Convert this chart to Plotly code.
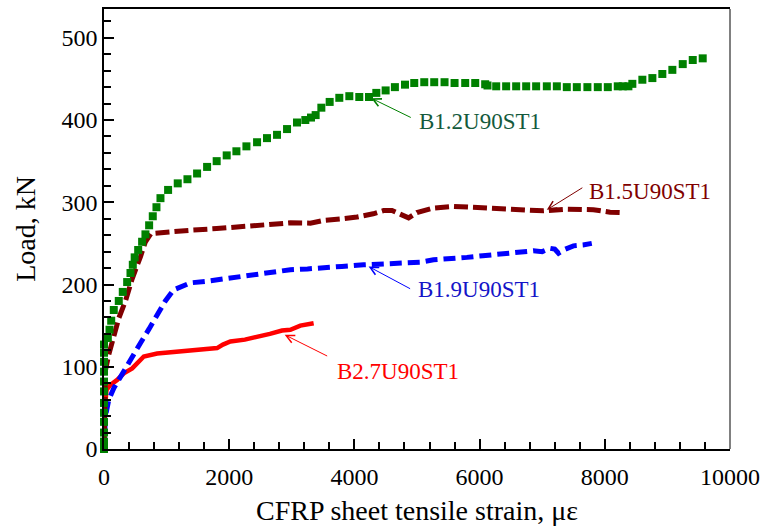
import plotly.graph_objects as go

# B1.2U90ST1 (green squares)
g_x = [0, 0, 0, 0, 0, 0, 0, 0, 0, 0, 0, 0, 61, 88, 115, 156, 236, 300, 370, 423, 460, 490,
       546, 609, 662, 721, 779, 838, 902, 1024, 1178, 1333, 1487, 1647, 1800, 1960, 2115,
       2275, 2445, 2604, 2764, 2924, 3083, 3216, 3307, 3381, 3472, 3605, 3759, 3919, 4078,
       4233, 4350, 4499, 4647, 4808, 4956, 5116, 5275, 5440, 5600, 5770, 5930, 6089, 6126,
       6265, 6424, 6584, 6744, 6903, 7074, 7234, 7393, 7553, 7722, 7888, 8048, 8207, 8287,
       8377, 8440, 8600, 8760, 8919, 9079, 9245, 9405, 9564]
g_y = [0, 9, 20, 33, 44, 56, 70, 82, 94, 106, 117, 127, 135, 145, 156, 169, 180, 191, 203,
       214, 224, 233, 242, 252, 261, 272, 283, 294, 305, 315, 323, 328, 335, 343, 350, 357,
       362, 368, 373, 378, 382, 389, 397, 400, 403, 406, 415, 422, 427, 429, 428, 428, 433,
       436, 440, 443, 445, 446, 446, 446, 445, 445, 445, 443.5, 442, 441, 441, 441, 441, 441,
       441, 441, 440, 440, 440, 440, 440, 441, 441, 441, 444, 449, 451, 456, 461, 468, 473, 475]

# B1.5U90ST1 (dark red dashed)
r5_x = [0, 10, 24, 77, 156, 236, 343, 450, 583, 662, 750, 1000, 1380, 1800, 2179, 2600, 2977,
        3296, 3509, 3800, 4041, 4300, 4466, 4600, 4700, 4786, 4866, 4999, 5264, 5584, 6062,
        6596, 7020, 7393, 7818, 8084, 8271]
r5_y = [0, 50, 96, 115, 137, 159, 180, 207, 234, 252, 262, 263, 266, 268, 270, 273, 275,
        274.6, 278, 280, 282, 286, 290, 290, 287, 283, 281, 287.5, 293, 295, 293, 290.4,
        289.6, 291.6, 291, 288, 287.5]

# B1.9U90ST1 (blue dashed)
b_x = [0, 10, 24, 77, 156, 290, 450, 583, 720, 849, 980, 1114, 1250, 1381, 1650, 1912, 2180,
       2445, 2700, 2977, 3250, 3509, 3800, 4147, 4500, 4733, 5052, 5264, 5500, 5797, 6050,
       6329, 6600, 6860, 7000, 7127, 7200, 7260, 7340, 7499, 7650, 7792]
b_y = [0, 20, 40, 60, 74, 91, 113, 129, 146, 163, 180, 193.6, 198, 202, 204, 206.6, 209,
       212, 215, 218, 219, 221, 222, 224, 225, 226, 227, 230, 231, 233, 235, 237, 239, 241,
       240, 244, 243, 238, 242, 247, 248, 250]

# B2.7U90ST1 (red solid)
r2_x = [0, 15, 40, 104, 210, 316, 450, 636, 849, 1000, 1381, 1650, 1807, 1900, 2019, 2250,
        2445, 2650, 2844, 2977, 3136, 3349]
r2_y = [0, 50, 72, 78, 84, 92, 98, 112.5, 116, 117, 119.4, 121, 122.7, 127, 130.7, 133,
        136, 140, 144, 145, 150, 153]

labels = ["B1.2U90ST1", "B1.5U90ST1", "B1.9U90ST1", "B2.7U90ST1"]
tips_x = [4270, 7074, 4227, 2886]
tips_y = [426.5, 290.8, 221.9, 138.9]
text_x = [5004, 7713, 4988, 3695]
text_y = [397.7, 313, 194.4, 93.9]

x_ticks = [0, 2000, 4000, 6000, 8000, 10000]
x_tick_text = ["0", "2000", "4000", "6000", "8000", "10000"]
y_ticks = [0, 100, 200, 300, 400, 500]
y_tick_text = ["0", "100", "200", "300", "400", "500"]

FONT = "'Liberation Serif', 'Times New Roman', serif"

fig = go.Figure()
fig.add_trace(go.Scatter(x=r2_x, y=r2_y, mode="lines",
                         line=dict(color="#ff0000", width=4.5), cliponaxis=False))
fig.add_trace(go.Scatter(x=b_x, y=b_y, mode="lines",
                         line=dict(color="#0000ff", width=5, dash="12px,6px"), cliponaxis=False))
fig.add_trace(go.Scatter(x=r5_x, y=r5_y, mode="lines",
                         line=dict(color="#800000", width=5, dash="14px,5px"), cliponaxis=False))
fig.add_trace(go.Scatter(x=g_x, y=g_y, mode="markers",
                         marker=dict(color="#008000", size=8, symbol="square"), cliponaxis=False))

arrow_cols = ["#008000", "#800000", "#0000ff", "#ff0000"]
text_cols = ["#145a3c", "#800000", "#1414c8", "#ff0000"]
offs = [(41, 20), (37, -23), (43, 23), (44, 22)]
annotations = []
for i in range(4):
    annotations.append(dict(x=tips_x[i], y=tips_y[i], xref="x", yref="y", text="",
                            showarrow=True, arrowhead=5, arrowsize=1.6, arrowwidth=1,
                            arrowcolor=arrow_cols[i], ax=offs[i][0], ay=offs[i][1]))
    annotations.append(dict(x=text_x[i], y=text_y[i], xref="x", yref="y", text=labels[i],
                            showarrow=False, xanchor="left", yanchor="middle",
                            font=dict(family=FONT, size=23, color=text_cols[i])))

fig.update_layout(
    width=762, height=526,
    margin=dict(l=104, r=32, t=9, b=77),
    paper_bgcolor="white", plot_bgcolor="white",
    showlegend=False,
    font=dict(family=FONT, size=24, color="black"),
    annotations=annotations,
    shapes=[dict(type="line", xref="paper", yref="paper", x0=1, x1=1, y0=0, y1=1,
                 line=dict(color="#808080", width=2))],
)
fig.update_xaxes(range=[0, 10000], tickvals=x_ticks, ticktext=x_tick_text,
                 ticks="inside", ticklen=10, ticklabelstandoff=5, automargin=False,
                 tickwidth=1.5, tickcolor="black", showline=True, linecolor="black",
                 linewidth=1.5, mirror=True, showgrid=False, zeroline=False,
                 minor=dict(dtick=400, ticks="inside", ticklen=7, tickcolor="black",
                            tickwidth=1.5, showgrid=False),
                 title=dict(text="CFRP sheet tensile strain, \u03bc\u03b5",
                            font=dict(family=FONT, size=28), standoff=16))
fig.update_yaxes(range=[0, 535], tickvals=y_ticks, ticktext=y_tick_text,
                 ticks="inside", ticklen=10, automargin=False,
                 tickwidth=1.5, tickcolor="black", showline=True, linecolor="black",
                 linewidth=1.5, showgrid=False, zeroline=False,
                 minor=dict(dtick=20, ticks="inside", ticklen=7, tickcolor="black",
                            tickwidth=1.5, showgrid=False),
                 title=dict(text="Load, kN", font=dict(family=FONT, size=28), standoff=18))

fig.write_html("out.html")
